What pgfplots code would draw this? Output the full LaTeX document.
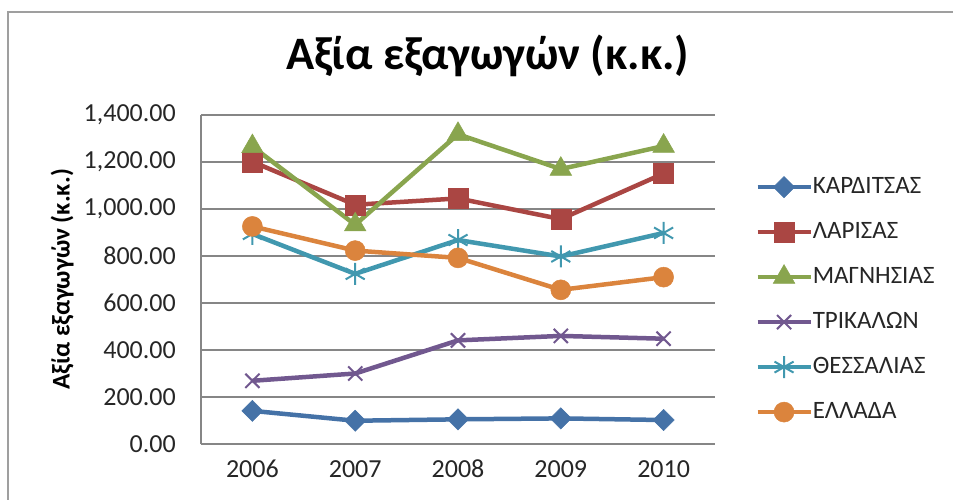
\documentclass[border=0pt]{standalone}
\usepackage{pgfplots}
\pgfplotsset{compat=1.18}
\usepackage{fontspec}
\setmainfont{Carlito}
\definecolor{cK}{HTML}{4572A7}
\definecolor{cL}{HTML}{AA4643}
\definecolor{cM}{HTML}{89A54E}
\definecolor{cT}{HTML}{71588F}
\definecolor{cTh}{HTML}{4198AF}
\definecolor{cE}{HTML}{DB843D}
\definecolor{gridc}{HTML}{868686}
\begin{document}
\begin{tikzpicture}[x=1pt,y=1pt]
\useasboundingbox (0,0) rectangle (953,499);
\draw[color=gray!75, line width=2.5pt] (8,-20) -- (8,487) -- (980,487);
\begin{axis}[
  at={(201pt,55pt)}, anchor=south west,
  scale only axis, width=514pt, height=329pt,
  xmin=2005.5, xmax=2010.5, ymin=0, ymax=1400,
  xtick={2006,2007,2008,2009,2010}, ytick={0,200,...,1400},
  axis x line*=bottom, axis y line*=left,
  axis line style={gridc, line width=1.5pt},
  ymajorgrids, grid style={gridc, line width=1.5pt},
  major tick length=0pt,
  /pgf/number format/assume math mode=true,
  tick label style={font=\fontsize{26}{31}\selectfont, text=black!85, inner sep=0pt},
  yticklabel style={xshift=-25pt, /pgf/number format/.cd, fixed, fixed zerofill, precision=2, 1000 sep={,}},
  xticklabel style={yshift=-16pt, /pgf/number format/.cd, 1000 sep={}},
  title={Αξία εξαγωγών (κ.κ.)},
  title style={at={(axis description cs:0.558,1.161)}, anchor=center, font=\fontsize{46.5}{56}\selectfont\bfseries},
  ylabel={Αξία εξαγωγών (κ.κ.)},
  ylabel style={at={(axis description cs:-0.270,0.5)}, anchor=center, font=\fontsize{25.5}{30}\selectfont\bfseries},
  legend style={at={(axis description cs:1.078,0.824)}, anchor=north west, draw=none, fill=none,
    font=\fontsize{25}{30}\selectfont, text=black!85, inner sep=0pt, row sep=17pt,
    cells={anchor=west},
    nodes={inner sep=0pt, text height=20pt, text depth=8pt},
    /tikz/every even column/.append style={column sep=9pt}},
  legend image code/.code={\draw[mark repeat=2,mark phase=2] plot coordinates {(0pt,0pt) (26.5pt,0pt) (53pt,0pt)};},
  every axis plot/.append style={line width=4.5pt},
]
\addplot[cK, mark=square*, mark size=7.5pt, mark options={rotate=45, solid, fill=cK, line width=0.5pt}]
  coordinates {(2006,141) (2007,99) (2008,105) (2009,109) (2010,102)};
\addlegendentry{ΚΑΡΔΙΤΣΑΣ}
\addplot[cL, mark=square*, mark size=10pt, mark options={solid, fill=cL, line width=0.5pt}]
  coordinates {(2006,1201) (2007,1018) (2008,1045) (2009,957) (2010,1151)};
\addlegendentry{ΛΑΡΙΣΑΣ}
\addplot[cM, mark=triangle*, mark size=12.5pt, mark options={solid, fill=cM, line width=0.5pt}]
  coordinates {(2006,1266) (2007,933) (2008,1318) (2009,1170) (2010,1268)};
\addlegendentry{ΜΑΓΝΗΣΙΑΣ}
\addplot[cT, mark=x, mark size=10pt, mark options={solid, line width=2pt}]
  coordinates {(2006,269) (2007,300) (2008,441) (2009,460) (2010,448)};
\addlegendentry{ΤΡΙΚΑΛΩΝ}
\addplot[cTh, mark=asterisk, mark size=11pt, mark options={solid, line width=2pt}]
  coordinates {(2006,894) (2007,724) (2008,868) (2009,798) (2010,898)};
\addlegendentry{ΘΕΣΣΑΛΙΑΣ}
\addplot[cE, mark=*, mark size=10pt, mark options={solid, fill=cE, line width=0.5pt}]
  coordinates {(2006,926) (2007,823) (2008,792) (2009,656) (2010,710)};
\addlegendentry{ΕΛΛΑΔΑ}
\end{axis}
\end{tikzpicture}
\end{document}
